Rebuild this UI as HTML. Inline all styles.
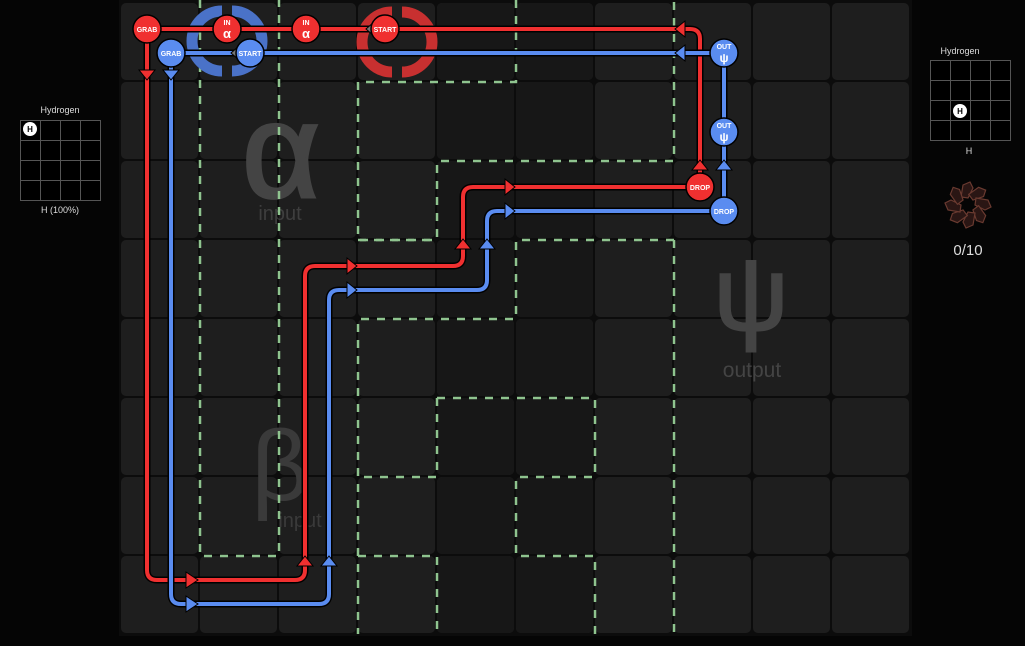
<!DOCTYPE html>
<html><head><meta charset="utf-8"><style>
html,body{margin:0;padding:0;background:#000;width:1025px;height:646px;overflow:hidden}
svg{display:block}
text{font-family:"Liberation Sans",sans-serif}
</style></head><body>
<svg width="1025" height="646" viewBox="0 0 1025 646" xmlns="http://www.w3.org/2000/svg">
<defs>
<pattern id="cell" x="121" y="3" width="79" height="79" patternUnits="userSpaceOnUse">
<rect x="0" y="0" width="77" height="77" rx="5" fill="#1e1e1e"/>
</pattern>
<pattern id="cellD" x="121" y="3" width="79" height="79" patternUnits="userSpaceOnUse">
<rect x="0" y="0" width="77" height="77" rx="5" fill="#171717"/>
</pattern>
</defs>
<rect width="1025" height="646" fill="#050505"/>
<rect x="119" y="0" width="793" height="636" fill="#0c0c0c"/>
<rect x="121" y="3" width="789" height="631" fill="url(#cell)"/>
<rect x="437" y="3" width="156" height="631" fill="url(#cellD)"/>
<text x="281" y="197" font-family="DejaVu Sans,sans-serif" font-size="135" fill="#444" stroke="#444" stroke-width="3" text-anchor="middle">α</text>
<text x="280" y="220" font-size="20" fill="#3e3e3e" text-anchor="middle">input</text>
<text x="280" y="500" font-family="DejaVu Sans,sans-serif" font-size="100" fill="#3a3a3a" text-anchor="middle">β</text>
<text x="300" y="527" font-size="20" fill="#3a3a3a" text-anchor="middle">input</text>
<text x="751" y="330" font-family="DejaVu Sans,sans-serif" font-size="105" fill="#444" stroke="#444" stroke-width="2" text-anchor="middle">ψ</text>
<text x="752" y="377" font-size="21" fill="#444" text-anchor="middle">output</text>
<g stroke="#8fc48f" stroke-width="2.5" stroke-dasharray="8,8" fill="none">
<path d="M200 0V556H279V0"/>
<path d="M516 0V82H358V240H437V161H674V0"/>
<path d="M674 240H516V319H358V634"/>
<path d="M674 240V634"/>
<path d="M358 240H437"/>
<path d="M437 398H595V477H516V556H595V634"/>
<path d="M437 398V477H358"/>
<path d="M358 556H437V634"/>
</g>
<g fill="none" stroke-width="11">
<path d="M222 11A30 30 0 0 0 222 71" stroke="#4a72c8"/><path d="M232 11A30 30 0 0 1 232 71" stroke="#4a72c8"/>
<path d="M392 12A30 30 0 0 0 392 72" stroke="#c83030"/><path d="M402 12A30 30 0 0 1 402 72" stroke="#c83030"/>
</g>
<g fill="none" stroke-linejoin="round">
<path d="M147 29H690Q700 29 700 39V187H473Q463 187 463 197V256Q463 266 453 266H315Q305 266 305 276V570Q305 580 295 580H157Q147 580 147 570V29" stroke="#000" stroke-width="7"/>
<path d="M147 29H690Q700 29 700 39V187H473Q463 187 463 197V256Q463 266 453 266H315Q305 266 305 276V570Q305 580 295 580H157Q147 580 147 570V29" stroke="#f03030" stroke-width="4"/>
<path d="M171 53H724V211H497Q487 211 487 221V280Q487 290 477 290H339Q329 290 329 300V594Q329 604 319 604H181Q171 604 171 594V53" stroke="#000" stroke-width="7"/>
<path d="M171 53H724V211H497Q487 211 487 221V280Q487 290 477 290H339Q329 290 329 300V594Q329 604 319 604H181Q171 604 171 594V53" stroke="#5a8cf0" stroke-width="4"/>
</g>
<g stroke="#000" stroke-width="1">
<path d="M139 70H155L147 80Z" fill="#f03030"/>
<path d="M163 70H179L171 80Z" fill="#5a8cf0"/>
<path d="M186 572V588L198 580Z" fill="#f03030"/>
<path d="M186 596V612L198 604Z" fill="#5a8cf0"/>
<path d="M297 566H313L305 556Z" fill="#f03030"/>
<path d="M321 566H337L329 556Z" fill="#5a8cf0"/>
<path d="M347 258V274L357 266Z" fill="#f03030"/>
<path d="M347 282V298L357 290Z" fill="#5a8cf0"/>
<path d="M455 249H471L463 239Z" fill="#f03030"/>
<path d="M479 249H495L487 239Z" fill="#5a8cf0"/>
<path d="M505 179V195L515 187Z" fill="#f03030"/>
<path d="M505 203V219L515 211Z" fill="#5a8cf0"/>
<path d="M692 170H708L700 160Z" fill="#f03030"/>
<path d="M716 170H732L724 160Z" fill="#5a8cf0"/>
<path d="M685 21V37L675 29Z" fill="#f03030"/>
<path d="M685 45V61L675 53Z" fill="#5a8cf0"/>
<path d="M374 22V36L366 29Z" fill="#777"/>
<path d="M239 46V60L231 53Z" fill="#777"/>
</g>
<g stroke="#000" stroke-width="1.5" font-size="7" font-weight="bold" text-anchor="middle" fill="#fff">
<circle cx="147" cy="29" r="14" fill="#f03030"/><text x="147" y="32" fill="#fff" stroke="none">GRAB</text>
<circle cx="171" cy="53" r="14" fill="#5a8cf0"/><text x="171" y="56" fill="#fff" stroke="none">GRAB</text>
<circle cx="227" cy="29" r="14" fill="#f03030"/><text x="227" y="25" fill="#fff" stroke="none">IN</text><text x="227" y="38" font-size="13" fill="#fff" stroke="none">α</text>
<circle cx="306" cy="29" r="14" fill="#f03030"/><text x="306" y="25" fill="#fff" stroke="none">IN</text><text x="306" y="38" font-size="13" fill="#fff" stroke="none">α</text>
<circle cx="385" cy="29" r="14" fill="#f03030"/><text x="385" y="32" fill="#fff" stroke="none">START</text>
<circle cx="250" cy="53" r="14" fill="#5a8cf0"/><text x="250" y="56" fill="#fff" stroke="none">START</text>
<circle cx="724" cy="53" r="14" fill="#5a8cf0"/><text x="724" y="49" fill="#fff" stroke="none">OUT</text><text x="724" y="62" font-size="12" fill="#fff" stroke="none">ψ</text>
<circle cx="724" cy="132" r="14" fill="#5a8cf0"/><text x="724" y="128" fill="#fff" stroke="none">OUT</text><text x="724" y="141" font-size="12" fill="#fff" stroke="none">ψ</text>
<circle cx="700" cy="187" r="14" fill="#f03030"/><text x="700" y="190" fill="#fff" stroke="none">DROP</text>
<circle cx="724" cy="211" r="14" fill="#5a8cf0"/><text x="724" y="214" fill="#fff" stroke="none">DROP</text>
</g>
<text x="60" y="113" font-size="9" fill="#ddd" text-anchor="middle">Hydrogen</text>
<rect x="20" y="120" width="80" height="80" fill="#000"/>
<g stroke="#555" stroke-width="1" fill="none">
<rect x="20.5" y="120.5" width="80" height="80"/>
<path d="M40.5 120V200M60.5 120V200M80.5 120V200M20 140.5H100M20 160.5H100M20 180.5H100"/>
</g>
<circle cx="30" cy="129" r="7" fill="#fff"/><text x="30" y="132" font-size="8" font-weight="bold" text-anchor="middle" fill="#000">H</text>
<text x="60" y="213" font-size="9" fill="#ddd" text-anchor="middle">H (100%)</text>
<text x="960" y="54" font-size="9" fill="#ddd" text-anchor="middle">Hydrogen</text>
<rect x="930" y="60" width="80" height="80" fill="#000"/>
<g stroke="#555" stroke-width="1" fill="none">
<rect x="930.5" y="60.5" width="80" height="80"/>
<path d="M950.5 60V140M970.5 60V140M990.5 60V140M930 80.5H1010M930 100.5H1010M930 120.5H1010"/>
</g>
<circle cx="960" cy="111" r="7" fill="#fff"/><text x="960" y="114" font-size="8" font-weight="bold" text-anchor="middle" fill="#000">H</text>
<text x="969" y="154" font-size="9" fill="#ddd" text-anchor="middle">H</text>
<g fill="#2a1614" stroke="#6a3a30" stroke-width="1.2" transform="translate(968,205)">
<path id="pet" d="M-7 -8L-5 -20L2 -23L5 -17L0 -7Z"/>
<use href="#pet" transform="rotate(45)"/><use href="#pet" transform="rotate(90)"/><use href="#pet" transform="rotate(135)"/>
<use href="#pet" transform="rotate(180)"/><use href="#pet" transform="rotate(225)"/><use href="#pet" transform="rotate(270)"/><use href="#pet" transform="rotate(315)"/>
</g>
<text x="968" y="255" font-size="15" fill="#ddd" text-anchor="middle">0/10</text>
</svg>
</body></html>
